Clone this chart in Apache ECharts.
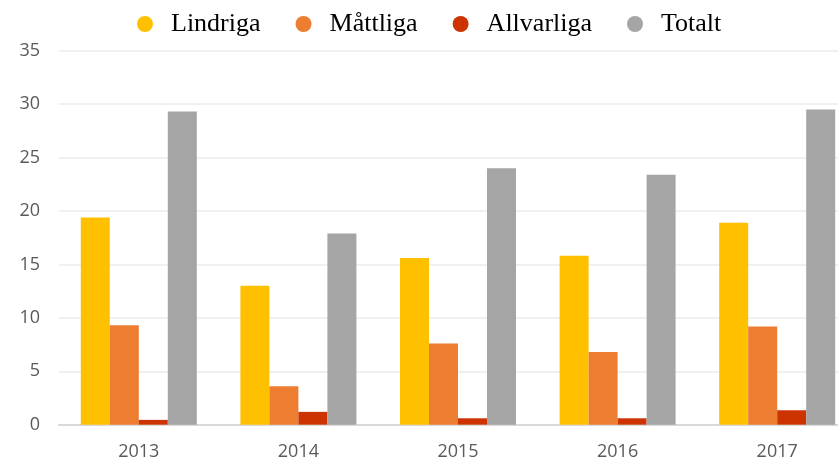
<!DOCTYPE html>
<html>
<head>
<meta charset="utf-8">
<script src="https://cdn.jsdelivr.net/npm/echarts@6/dist/echarts.min.js"></script>
<style>
  html, body { margin: 0; padding: 0; background: #fff; }
  #chart { width: 838px; height: 462px; }
</style>
</head>
<body>
<div id="chart"></div>
<script>
var years = ['2013', '2014', '2015', '2016', '2017'];
var seriesNames = ['Lindriga', 'Måttliga', 'Allvarliga', 'Totalt'];
var lindriga = [19.4, 13.0, 15.6, 15.8, 18.9];
var mattliga = [9.3, 3.6, 7.6, 6.8, 9.2];
var allvarliga = [0.45, 1.2, 0.6, 0.6, 1.35];
var totalt = [29.3, 17.9, 24.0, 23.4, 29.5];
var colors = ['#FFC000', '#ED7D31', '#CC3300', '#A5A5A5'];

var values = [lindriga, mattliga, allvarliga, totalt];

var chart = echarts.init(document.getElementById('chart'));

var series = [];
for (var i = 0; i < seriesNames.length; i++) {
  series.push({
    name: seriesNames[i],
    type: 'bar',
    barWidth: 29,
    barGap: '0%',
    itemStyle: { color: colors[i] },
    data: values[i]
  });
}

var option = {
  animation: false,
  color: colors,
  legend: {
    left: 132,
    top: 6,
    icon: 'circle',
    itemWidth: 42,
    itemHeight: 16,
    itemGap: 35,
    textStyle: {
      fontFamily: 'Liberation Serif',
      fontSize: 26,
      color: '#000'
    },
    data: seriesNames
  },
  grid: {
    left: 59,
    right: -19, // plot runs past the right edge in the original
    top: 50.7,
    bottom: 37.3,
    outerBoundsMode: 'none'
  },
  xAxis: {
    type: 'category',
    data: years,
    axisTick: { show: false },
    axisLine: { lineStyle: { color: '#D9D9D9', width: 2 } },
    axisLabel: {
      margin: 18,
      color: '#595959',
      fontFamily: 'Open Sans',
      fontSize: 18
    }
  },
  yAxis: {
    type: 'value',
    min: 0,
    max: 35,
    interval: 5,
    axisLine: { show: false },
    axisTick: { show: false },
    splitLine: { lineStyle: { color: '#F0F0F0', width: 2 } },
    axisLabel: {
      margin: 19,
      color: '#595959',
      fontFamily: 'Open Sans',
      fontSize: 18
    }
  },
  series: series
};

chart.setOption(option);
</script>
</body>
</html>
